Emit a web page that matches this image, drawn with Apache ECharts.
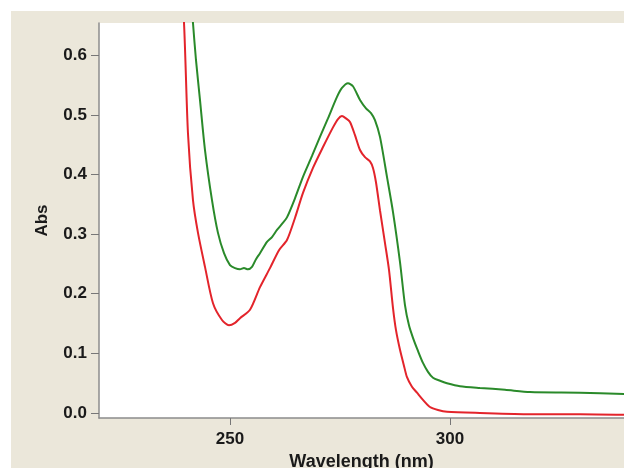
<!DOCTYPE html>
<html>
<head>
<meta charset="utf-8">
<script src="https://cdn.jsdelivr.net/npm/echarts@6/dist/echarts.min.js"></script>
<style>
html,body{margin:0;padding:0;background:#fff;}
#c{width:624px;height:468px;}
</style>
</head>
<body>
<div id="c"></div>
<script>
// Wavelength (nm) and absorbance for each trace
const redWavelength = [238.41, 239.55, 240.45, 241.59, 242.73, 244.32, 246.14, 248.18, 249.77, 251.14, 252.27, 254.55, 256.82, 259.09, 261.14, 262.95, 264.77, 266.59, 268.86, 271.14, 273.41, 274.55, 275.45, 276.36, 277.27, 278.41, 279.55, 280.68, 281.82, 282.5, 283.18, 284.09, 285.23, 286.14, 287.05, 287.73, 288.64, 289.55, 290.23, 291.36, 292.5, 293.86, 295.45, 297.27, 299.32, 306.82, 318.18, 329.55, 339.55];
const redAbs = [0.774, 0.654, 0.469, 0.357, 0.302, 0.245, 0.184, 0.156, 0.147, 0.151, 0.159, 0.173, 0.211, 0.243, 0.273, 0.290, 0.327, 0.369, 0.411, 0.446, 0.479, 0.493, 0.498, 0.494, 0.488, 0.466, 0.441, 0.429, 0.422, 0.411, 0.387, 0.340, 0.285, 0.240, 0.176, 0.139, 0.106, 0.079, 0.060, 0.044, 0.034, 0.022, 0.010, 0.005, 0.002, 0.000, -0.002, -0.002, -0.003];
const greenWavelength = [240.68, 241.59, 242.27, 243.18, 244.32, 245.91, 247.27, 248.64, 250.0, 251.14, 252.27, 253.18, 254.09, 255.0, 255.91, 256.82, 258.41, 259.55, 260.68, 261.82, 262.95, 264.77, 266.59, 268.64, 270.45, 272.27, 274.32, 275.45, 276.82, 277.95, 279.55, 280.91, 282.05, 282.95, 284.09, 285.68, 287.05, 288.64, 289.77, 290.68, 291.59, 292.73, 293.86, 295.0, 296.14, 297.73, 299.32, 302.27, 306.82, 312.5, 318.18, 329.55, 339.55];
const greenAbs = [0.747, 0.654, 0.592, 0.525, 0.441, 0.357, 0.302, 0.268, 0.248, 0.243, 0.241, 0.243, 0.241, 0.245, 0.258, 0.268, 0.287, 0.295, 0.307, 0.317, 0.328, 0.360, 0.396, 0.431, 0.463, 0.494, 0.530, 0.545, 0.553, 0.548, 0.525, 0.511, 0.503, 0.491, 0.463, 0.396, 0.337, 0.253, 0.181, 0.147, 0.126, 0.104, 0.084, 0.069, 0.059, 0.054, 0.050, 0.045, 0.042, 0.039, 0.035, 0.034, 0.032];
const yTicks = [0.0, 0.1, 0.2, 0.3, 0.4, 0.5, 0.6];
const xTicks = [250, 300];

const zip = (xs, ys) => xs.map((x, i) => [x, ys[i]]);
const chart = echarts.init(document.getElementById('c'), null, {renderer: 'canvas'});
const FONT = 'Liberation Sans, Arial, sans-serif';
const labelFont = {fontFamily: FONT, fontWeight: 'bold', fontSize: 17, color: '#1a1a1a'};
chart.setOption({
  animation: false,
  backgroundColor: '#fff',
  graphic: [{type: 'rect', z: -10, shape: {x: 11, y: 11, width: 613, height: 457}, style: {fill: '#ebe7da'}}],
  grid: {left: 99, top: 23, right: 0, bottom: 50, outerBoundsMode: 'none', containLabel: false, show: true, backgroundColor: '#fff', borderWidth: 0},
  xAxis: {
    type: 'value', min: 220.23, max: 339.55,
    name: 'Wavelength (nm)', nameLocation: 'middle', nameGap: 32,
    nameTextStyle: {fontFamily: FONT, fontWeight: 'bold', fontSize: 18, color: '#1a1a1a'},
    axisLine: {show: true, onZero: false, lineStyle: {color: '#8c8c8c', width: 1.5}},
    axisTick: {show: true, length: 7, lineStyle: {color: '#777'}, customValues: xTicks},
    axisLabel: Object.assign({margin: 13, customValues: xTicks, formatter: v => String(Math.round(v))}, labelFont),
    splitLine: {show: false}
  },
  yAxis: {
    type: 'value', min: -0.0084, max: 0.654,
    name: 'Abs', nameLocation: 'middle', nameGap: 48,
    nameTextStyle: {fontFamily: FONT, fontWeight: 'bold', fontSize: 17, color: '#1a1a1a'},
    axisLine: {show: true, onZero: false, lineStyle: {color: '#8c8c8c', width: 1.5}},
    axisTick: {show: true, length: 8, lineStyle: {color: '#777'}, customValues: yTicks},
    axisLabel: Object.assign({margin: 12, customValues: yTicks, formatter: v => v.toFixed(1)}, labelFont),
    splitLine: {show: false}
  },
  series: [
    {type: 'line', data: zip(greenWavelength, greenAbs), smooth: 0.25, showSymbol: false, clip: true, lineStyle: {color: '#2a8a2a', width: 2}},
    {type: 'line', data: zip(redWavelength, redAbs), smooth: 0.25, showSymbol: false, clip: true, lineStyle: {color: '#e3242b', width: 2}}
  ]
});
</script>
</body>
</html>
